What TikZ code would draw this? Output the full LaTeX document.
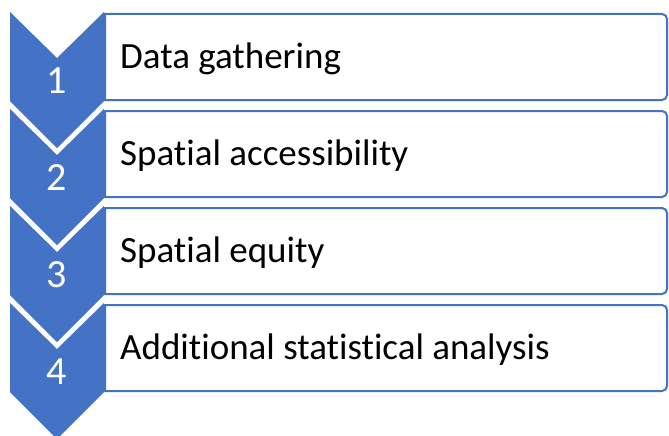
\documentclass[tikz,border=0pt]{standalone}
\usepackage{fontspec}
\setmainfont[Ligatures={NoCommon}]{Carlito}
\definecolor{acc}{HTML}{4472C4}
\begin{document}
\begin{tikzpicture}[x=1pt,y=1pt,
  boxline/.style={draw=acc,line width=2pt,fill=white},
  chev/.style={fill=acc,draw=none},
  numtxt/.style={text=white,font=\fontsize{40}{44}\selectfont,inner sep=0pt,anchor=base},
  steptxt/.style={text=black,font=\fontsize{37}{41}\selectfont,inner sep=0pt,anchor=base west}]
\useasboundingbox (0,0) rectangle (669,-436);
\fill[white] (0,0) rectangle (669,-436);
\foreach \k/\lbl in {0/{Data gathering},1/{Spatial accessibility},2/{Spatial equity},3/{Additional statistical analysis}} {
  \pgfmathsetmacro\T{14+97*\k}
  \pgfmathsetmacro\B{100+97*\k}
  \pgfmathsetmacro\C{12+97*\k}
  \draw[boxline] (105,-\T) -- (662,-\T) arc[start angle=90,end angle=0,radius=5]
     -- (667,{5-\B}) arc[start angle=0,end angle=-90,radius=5] -- (105,-\B) -- cycle;
  \fill[chev] (10,-\C) -- (57,{-\C-46}) -- (104,-\C) -- (104,{-\C-89})
     -- (57,{-\C-136}) -- (10,{-\C-89}) -- cycle;
  \pgfmathtruncatemacro\n{\k+1}
  \node[numtxt] (num\n) at (57,{-\C-81}) {\n};
  \node[steptxt] (txt\n) at (120,{-\C-56}) {\lbl};
}
\end{tikzpicture}
\end{document}
